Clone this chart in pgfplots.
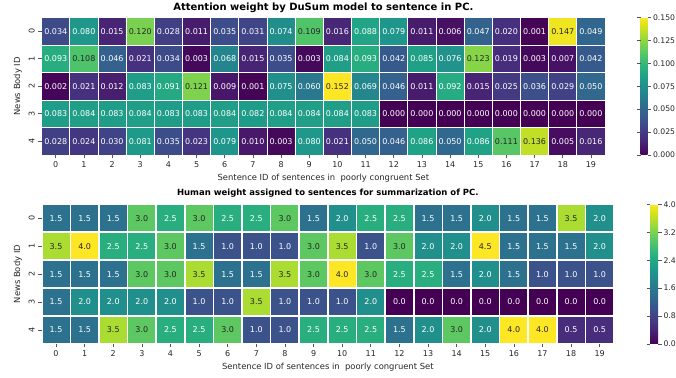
\documentclass[border=0pt]{standalone}
\usepackage{fontspec}
\setmainfont{DejaVu Sans}
\usepackage{pgfplots}
\usepackage{pgfplotstable}
\pgfplotsset{compat=1.18}

\definecolor{txtdark}{HTML}{262626}
\definecolor{tickgray}{HTML}{555555}

% attention weights: sentence x, news body y, weight v
\pgfplotstableread[row sep=\\]{
x y v \\
0 0 0.034 \\ 1 0 0.080 \\ 2 0 0.015 \\ 3 0 0.120 \\ 4 0 0.028 \\ 5 0 0.011 \\ 6 0 0.035 \\ 7 0 0.031 \\ 8 0 0.074 \\ 9 0 0.109 \\ 10 0 0.016 \\ 11 0 0.088 \\ 12 0 0.079 \\ 13 0 0.011 \\ 14 0 0.006 \\ 15 0 0.047 \\ 16 0 0.020 \\ 17 0 0.001 \\ 18 0 0.147 \\ 19 0 0.049 \\
0 1 0.093 \\ 1 1 0.108 \\ 2 1 0.046 \\ 3 1 0.021 \\ 4 1 0.034 \\ 5 1 0.003 \\ 6 1 0.068 \\ 7 1 0.015 \\ 8 1 0.035 \\ 9 1 0.003 \\ 10 1 0.084 \\ 11 1 0.093 \\ 12 1 0.042 \\ 13 1 0.085 \\ 14 1 0.076 \\ 15 1 0.123 \\ 16 1 0.019 \\ 17 1 0.003 \\ 18 1 0.007 \\ 19 1 0.042 \\
0 2 0.002 \\ 1 2 0.021 \\ 2 2 0.012 \\ 3 2 0.083 \\ 4 2 0.091 \\ 5 2 0.121 \\ 6 2 0.009 \\ 7 2 0.001 \\ 8 2 0.075 \\ 9 2 0.060 \\ 10 2 0.152 \\ 11 2 0.069 \\ 12 2 0.046 \\ 13 2 0.011 \\ 14 2 0.092 \\ 15 2 0.015 \\ 16 2 0.025 \\ 17 2 0.036 \\ 18 2 0.029 \\ 19 2 0.050 \\
0 3 0.083 \\ 1 3 0.084 \\ 2 3 0.083 \\ 3 3 0.084 \\ 4 3 0.083 \\ 5 3 0.083 \\ 6 3 0.084 \\ 7 3 0.082 \\ 8 3 0.084 \\ 9 3 0.084 \\ 10 3 0.084 \\ 11 3 0.083 \\ 12 3 0.000 \\ 13 3 0.000 \\ 14 3 0.000 \\ 15 3 0.000 \\ 16 3 0.000 \\ 17 3 0.000 \\ 18 3 0.000 \\ 19 3 0.000 \\
0 4 0.028 \\ 1 4 0.024 \\ 2 4 0.030 \\ 3 4 0.081 \\ 4 4 0.035 \\ 5 4 0.023 \\ 6 4 0.079 \\ 7 4 0.010 \\ 8 4 0.003 \\ 9 4 0.080 \\ 10 4 0.021 \\ 11 4 0.050 \\ 12 4 0.046 \\ 13 4 0.086 \\ 14 4 0.050 \\ 15 4 0.086 \\ 16 4 0.111 \\ 17 4 0.136 \\ 18 4 0.005 \\ 19 4 0.016 \\
}\attn

% human weights
\pgfplotstableread[row sep=\\]{
x y v \\
0 0 1.5 \\ 1 0 1.5 \\ 2 0 1.5 \\ 3 0 3.0 \\ 4 0 2.5 \\ 5 0 3.0 \\ 6 0 2.5 \\ 7 0 2.5 \\ 8 0 3.0 \\ 9 0 1.5 \\ 10 0 2.0 \\ 11 0 2.5 \\ 12 0 2.5 \\ 13 0 1.5 \\ 14 0 1.5 \\ 15 0 2.0 \\ 16 0 1.5 \\ 17 0 1.5 \\ 18 0 3.5 \\ 19 0 2.0 \\
0 1 3.5 \\ 1 1 4.0 \\ 2 1 2.5 \\ 3 1 2.5 \\ 4 1 3.0 \\ 5 1 1.5 \\ 6 1 1.0 \\ 7 1 1.0 \\ 8 1 1.0 \\ 9 1 3.0 \\ 10 1 3.5 \\ 11 1 1.0 \\ 12 1 3.0 \\ 13 1 2.0 \\ 14 1 2.0 \\ 15 1 4.5 \\ 16 1 1.5 \\ 17 1 1.5 \\ 18 1 1.5 \\ 19 1 2.0 \\
0 2 1.5 \\ 1 2 1.5 \\ 2 2 1.5 \\ 3 2 3.0 \\ 4 2 3.0 \\ 5 2 3.5 \\ 6 2 1.5 \\ 7 2 1.5 \\ 8 2 3.5 \\ 9 2 3.0 \\ 10 2 4.0 \\ 11 2 3.0 \\ 12 2 2.5 \\ 13 2 2.5 \\ 14 2 1.5 \\ 15 2 2.0 \\ 16 2 1.5 \\ 17 2 1.0 \\ 18 2 1.0 \\ 19 2 1.0 \\
0 3 1.5 \\ 1 3 2.0 \\ 2 3 2.0 \\ 3 3 2.0 \\ 4 3 2.0 \\ 5 3 1.0 \\ 6 3 1.0 \\ 7 3 3.5 \\ 8 3 1.0 \\ 9 3 1.0 \\ 10 3 1.0 \\ 11 3 2.0 \\ 12 3 0.0 \\ 13 3 0.0 \\ 14 3 0.0 \\ 15 3 0.0 \\ 16 3 0.0 \\ 17 3 0.0 \\ 18 3 0.0 \\ 19 3 0.0 \\
0 4 1.5 \\ 1 4 1.5 \\ 2 4 3.5 \\ 3 4 3.0 \\ 4 4 2.5 \\ 5 4 2.5 \\ 6 4 3.0 \\ 7 4 1.0 \\ 8 4 1.0 \\ 9 4 2.5 \\ 10 4 2.5 \\ 11 4 2.5 \\ 12 4 1.5 \\ 13 4 2.0 \\ 14 4 3.0 \\ 15 4 2.0 \\ 16 4 4.0 \\ 17 4 4.0 \\ 18 4 0.5 \\ 19 4 0.5 \\
}\human

\pgfplotsset{
  heat/.style={
    scale only axis,
    xmin=-0.5, xmax=19.5, ymin=-0.5, ymax=4.5,
    xtick={0,...,19}, ytick={0,...,4}, yticklabels={4,3,2,1,0},
    minor xtick={-0.5,0.5,...,19.5}, minor ytick={-0.5,0.5,...,4.5},
    xminorgrids, yminorgrids, axis on top,
    minor tick length=0pt, major tick length=3.5pt,
    tick align=outside, xtick pos=bottom, ytick pos=left,
    axis line style={draw=none},
    major tick style={tickgray, line width=0.6pt},
    ticklabel style={font=\fontsize{8}{9}\selectfont, text=txtdark},
    yticklabel style={rotate=90, anchor=south},
    xlabel={Sentence ID of sentences in\ \ poorly congruent Set},
    ylabel={News Body ID},
    label style={font=\fontsize{8.4}{9.5}\selectfont, text=txtdark},
    xlabel style={yshift=1pt},
    colormap name=viridis,
    /pgf/number format/assume math mode=true,
    colorbar,
  },
  cbar/.style={
    at={(parent axis.north east)}, anchor=north west,
    scale only axis, axis line style={draw=none},
    major tick length=3.5pt, tick align=outside,
    major tick style={tickgray, line width=0.6pt},
    yticklabel style={font=\fontsize{7.7}{9}\selectfont, text=txtdark, xshift=-1.5pt},
  },
}

\begin{document}
\begin{tikzpicture}[x=1pt,y=1pt]
\useasboundingbox (0,0) rectangle (676,377);
\clip (0,0) rectangle (676,377);

% model attention
\begin{axis}[heat,
  at={(41.7pt,359.5pt)}, anchor=north west,
  width=563.3pt, height=137.5pt,
  minor grid style={white, line width=0.9pt},
  point meta min=0, point meta max=0.15,
  title={Attention weight by DuSum model to sentence in PC.},
  title style={font=\bfseries\fontsize{10}{11}\selectfont, yshift=-5pt},
  colorbar style={cbar, xshift=27pt, width=7pt, height=137.5pt,
    ytick={0,0.025,0.05,0.075,0.1,0.125,0.15},
    yticklabel={\pgfmathprintnumber[fixed,fixed zerofill,precision=3,assume math mode=true]{\tick}}},
]
\addplot[matrix plot*, mesh/cols=20, point meta=explicit]
  table[x=x, y expr=4-\thisrow{y}, meta=v]{\attn};
\addplot[only marks, mark=none, point meta=explicit symbolic,
  nodes near coords={\ifdim\pgfplotspointmeta pt>0.104pt\color{txtdark}\else\color{white}\fi\pgfplotspointmeta},
  nodes near coords style={anchor=center, inner sep=0pt, font=\fontsize{8}{9}\selectfont}]
  table[x=x, y expr=4-\thisrow{y}, meta=v]{\attn};
\end{axis}

% human judgement
\begin{axis}[heat,
  at={(41.7pt,172.7pt)}, anchor=north west,
  width=572.3pt, height=139.7pt,
  minor grid style={white, line width=1.6pt},
  point meta min=0, point meta max=4,
  title={Human weight assigned to sentences for summarization of PC.},
  title style={font=\bfseries\fontsize{8.5}{9.5}\selectfont, yshift=-3pt},
  colorbar style={cbar, xshift=27.5pt, width=8pt, height=139.7pt,
    ytick={0,0.8,1.6,2.4,3.2,4},
    yticklabel={\pgfmathprintnumber[fixed,fixed zerofill,precision=1,assume math mode=true]{\tick}}},
]
\addplot[matrix plot*, mesh/cols=20, point meta=explicit]
  table[x=x, y expr=4-\thisrow{y}, meta=v]{\human};
\addplot[only marks, mark=none, point meta=explicit symbolic,
  nodes near coords={\ifdim\pgfplotspointmeta pt>2.75pt\color{txtdark}\else\color{white}\fi\pgfplotspointmeta},
  nodes near coords style={anchor=center, inner sep=0pt, font=\fontsize{8}{9}\selectfont}]
  table[x=x, y expr=4-\thisrow{y}, meta=v]{\human};
\end{axis}
\end{tikzpicture}
\end{document}
